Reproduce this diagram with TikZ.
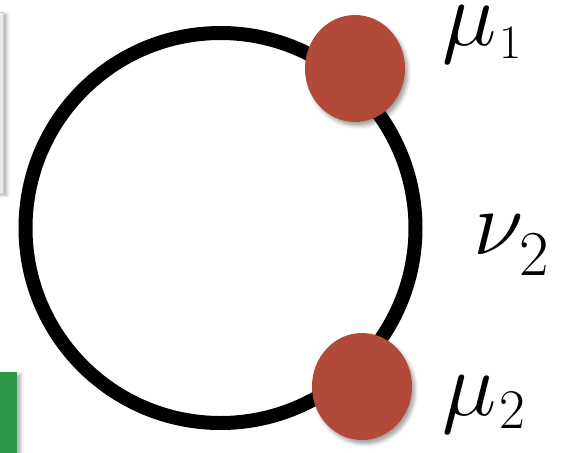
\documentclass[tikz,border=0pt]{standalone}
\usepackage{fix-cm}
\usepackage{tikz}
\usetikzlibrary{shapes.geometric, shadows.blur}
\definecolor{dotred}{RGB}{178,74,58}
\definecolor{panelgreen}{RGB}{46,152,72}
\definecolor{panelgray}{RGB}{236,236,236}

\begin{document}
\begin{tikzpicture}[x=0.5pt, y=-0.5pt,
  ring/.style={circle, draw=black, line width=7pt, minimum size=195pt, inner sep=0pt},
  dot/.style={ellipse, fill=dotred, minimum width=50pt, minimum height=53.5pt, inner sep=0pt,
              blur shadow={shadow xshift=1.5pt, shadow yshift=-2pt, shadow opacity=35}},
  lbl/.style={anchor=base west, inner sep=0pt, font=\fontsize{46}{50}\selectfont},
  panel/.style={blur shadow={shadow xshift=2pt, shadow yshift=-1pt, shadow opacity=30}}]
\useasboundingbox (0,0) rectangle (564,452);

% panels cut by the left edge
\fill[panelgray, draw=black!20, panel] (-30,12) rectangle (3,193);
\fill[panelgreen, panel] (-30,372) rectangle (17,480);

\node[ring] (ring) at (220.5,228) {};
\node[dot] (dot1) at (355,68.5) {};
\node[dot] (dot2) at (362,386.5) {};

\node[lbl] (mu1) at (442,45)  {$\mu_{\mbox{\kern1.5pt\fontsize{24}{24}\selectfont 1}}$};
\node[lbl] (nu2) at (473,254) {$\nu_{\raisebox{-4pt}{\kern1pt\fontsize{32}{32}\selectfont 2}}$};
\node[lbl] (mu2) at (442,415) {$\mu_{\mbox{\kern1.5pt\fontsize{28}{28}\selectfont 2}}$};
\end{tikzpicture}
\end{document}
